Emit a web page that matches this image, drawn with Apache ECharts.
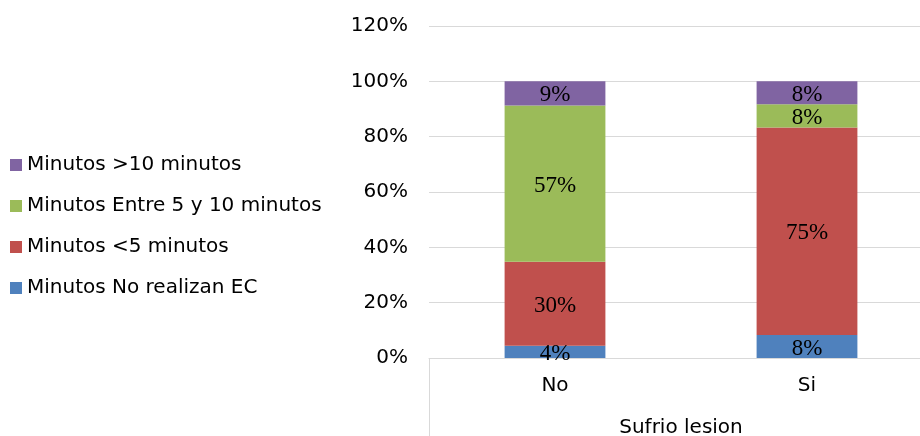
<!DOCTYPE html>
<html>
<head>
<meta charset="utf-8">
<script src="https://cdn.jsdelivr.net/npm/echarts@6/dist/echarts.min.js"></script>
<style>html,body{margin:0;padding:0;background:#fff}#c{width:920px;height:436px}</style>
</head>
<body>
<div id="c"></div>
<script>
var categories = ['No', 'Si'];
var seriesNames = ['Minutos No realizan EC', 'Minutos <5 minutos', 'Minutos Entre 5 y 10 minutos', 'Minutos >10 minutos'];
var noRealizan = [4.4, 8.3];
var menos5 = [30.4, 75.0];
var entre5y10 = [56.5, 8.4];
var mas10 = [8.7, 8.3];
var colors = ['#4f81bd', '#c0504d', '#9bbb59', '#8064a2'];
var axisTitle = 'Sufrio lesion';

var seriesData = [noRealizan, menos5, entre5y10, mas10];
var sans = 'DejaVu Sans';
var chart = echarts.init(document.getElementById('c'));
chart.setOption({
  animation: false,
  legend: {
    orient: 'vertical',
    left: 10,
    top: 155,
    padding: 0,
    itemWidth: 12,
    itemHeight: 12,
    itemGap: 21,
    icon: 'rect',
    data: seriesNames.slice().reverse(),
    textStyle: { fontFamily: sans, fontSize: 20, color: '#000', lineHeight: 20 }
  },
  grid: { left: 429, right: -13, top: 26, bottom: 78, outerBoundsMode: 'none', containLabel: false },
  xAxis: [{
    type: 'category',
    data: categories,
    axisLine: { lineStyle: { color: '#d9d9d9' } },
    axisTick: { show: false },
    axisLabel: { fontFamily: sans, fontSize: 20, color: '#000', margin: 18 },
    name: axisTitle,
    nameLocation: 'middle',
    nameGap: 60,
    nameTextStyle: { fontFamily: sans, fontSize: 20, color: '#000' }
  }, {
    type: 'category',
    data: [''],
    position: 'bottom',
    boundaryGap: true,
    axisLine: { show: false },
    axisLabel: { show: false },
    axisTick: { show: true, length: 80, lineStyle: { color: '#d9d9d9' } }
  }],
  yAxis: {
    type: 'value',
    min: 0,
    max: 120,
    interval: 20,
    axisLine: { show: false },
    axisTick: { show: false },
    splitLine: { lineStyle: { color: '#d9d9d9' } },
    axisLabel: { formatter: '{value}%', fontFamily: sans, fontSize: 20, color: '#000', margin: 21 }
  },
  series: seriesNames.map(function (n, i) {
    return {
      name: n,
      type: 'bar',
      stack: 'total',
      xAxisIndex: 0,
      barWidth: '40%',
      data: seriesData[i],
      itemStyle: { color: colors[i] },
      label: {
        show: true,
        position: 'inside',
        offset: [0, 2],
        formatter: function (p) { return Math.round(p.value) + '%'; },
        fontFamily: 'Liberation Serif',
        fontSize: 23,
        color: '#000'
      }
    };
  })
});
</script>
</body>
</html>
